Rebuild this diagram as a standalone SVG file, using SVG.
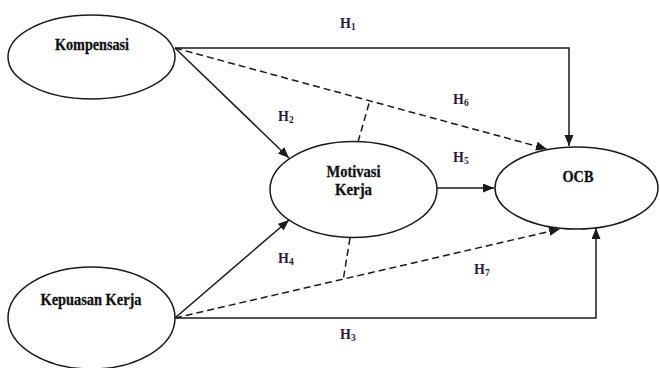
<svg xmlns="http://www.w3.org/2000/svg" width="660" height="368" viewBox="0 0 660 368">
<style>
.node{fill:#fff;stroke:#1a1a1a;stroke-width:1.5}
.lbl{font-family:"Liberation Serif","Times New Roman",serif;font-weight:bold;font-size:16.5px;fill:#111;stroke:#111;stroke-width:0.3;text-anchor:middle}
.h{font-family:"Liberation Serif","Times New Roman",serif;font-weight:bold;font-size:14px;fill:#2a1a3a}
.sub{font-size:9.5px}
.ln{fill:none;stroke:#1a1a1a;stroke-width:1.5}
.arr{marker-end:url(#ah)}
.dash{stroke-dasharray:7 4}
</style>
<defs>
<marker id="ah" markerUnits="userSpaceOnUse" markerWidth="12" markerHeight="10" refX="11" refY="4.5" orient="auto">
<path d="M0,0 L11,4.5 L0,9 z" fill="#1a1a1a"/>
</marker>
</defs>
<rect width="660" height="368" fill="#fff"/>
<g id="connectors">
<path class="ln arr" d="M175,48 H569 V146"/>
<path class="ln arr dash" d="M175,48 L547,149"/>
<path class="ln arr" d="M175,48 L289,158"/>
<path class="ln arr" d="M437,188 L494,188"/>
<path class="ln arr" d="M175,318 L289,220"/>
<path class="ln arr dash" d="M175,318 L560,229"/>
<path class="ln arr" d="M175,318 H596 V228"/>
<path class="ln dash" d="M358,142 L370,100"/>
<path class="ln dash" d="M350,238 L343,281"/>
<text class="h" x="340" y="28">H<tspan class="sub" dy="2">1</tspan></text>
<text class="h" x="278" y="121">H<tspan class="sub" dy="2">2</tspan></text>
<text class="h" x="340" y="339">H<tspan class="sub" dy="2">3</tspan></text>
<text class="h" x="278" y="263">H<tspan class="sub" dy="2">4</tspan></text>
<text class="h" x="453" y="162">H<tspan class="sub" dy="2">5</tspan></text>
<text class="h" x="453" y="104">H<tspan class="sub" dy="2">6</tspan></text>
<text class="h" x="474" y="274">H<tspan class="sub" dy="2">7</tspan></text>
</g>
<g id="kompensasi">
<ellipse class="node" cx="91.5" cy="57" rx="83.5" ry="42"/>
<text class="lbl" x="92" y="50" textLength="74" lengthAdjust="spacingAndGlyphs">Kompensasi</text>
</g>
<g id="kepuasan">
<ellipse class="node" cx="91.5" cy="318" rx="83.5" ry="51"/>
<text class="lbl" x="91" y="305" textLength="101" lengthAdjust="spacingAndGlyphs">Kepuasan Kerja</text>
</g>
<g id="motivasi">
<ellipse class="node" cx="353.5" cy="189.5" rx="83.5" ry="48"/>
<text class="lbl" x="353.5" y="177" textLength="54" lengthAdjust="spacingAndGlyphs">Motivasi</text>
<text class="lbl" x="353.5" y="195" textLength="37" lengthAdjust="spacingAndGlyphs">Kerja</text>
</g>
<g id="ocb">
<ellipse class="node" cx="576.5" cy="188" rx="81.5" ry="41"/>
<text class="lbl" x="578" y="182" textLength="31" lengthAdjust="spacingAndGlyphs">OCB</text>
</g>
</svg>
